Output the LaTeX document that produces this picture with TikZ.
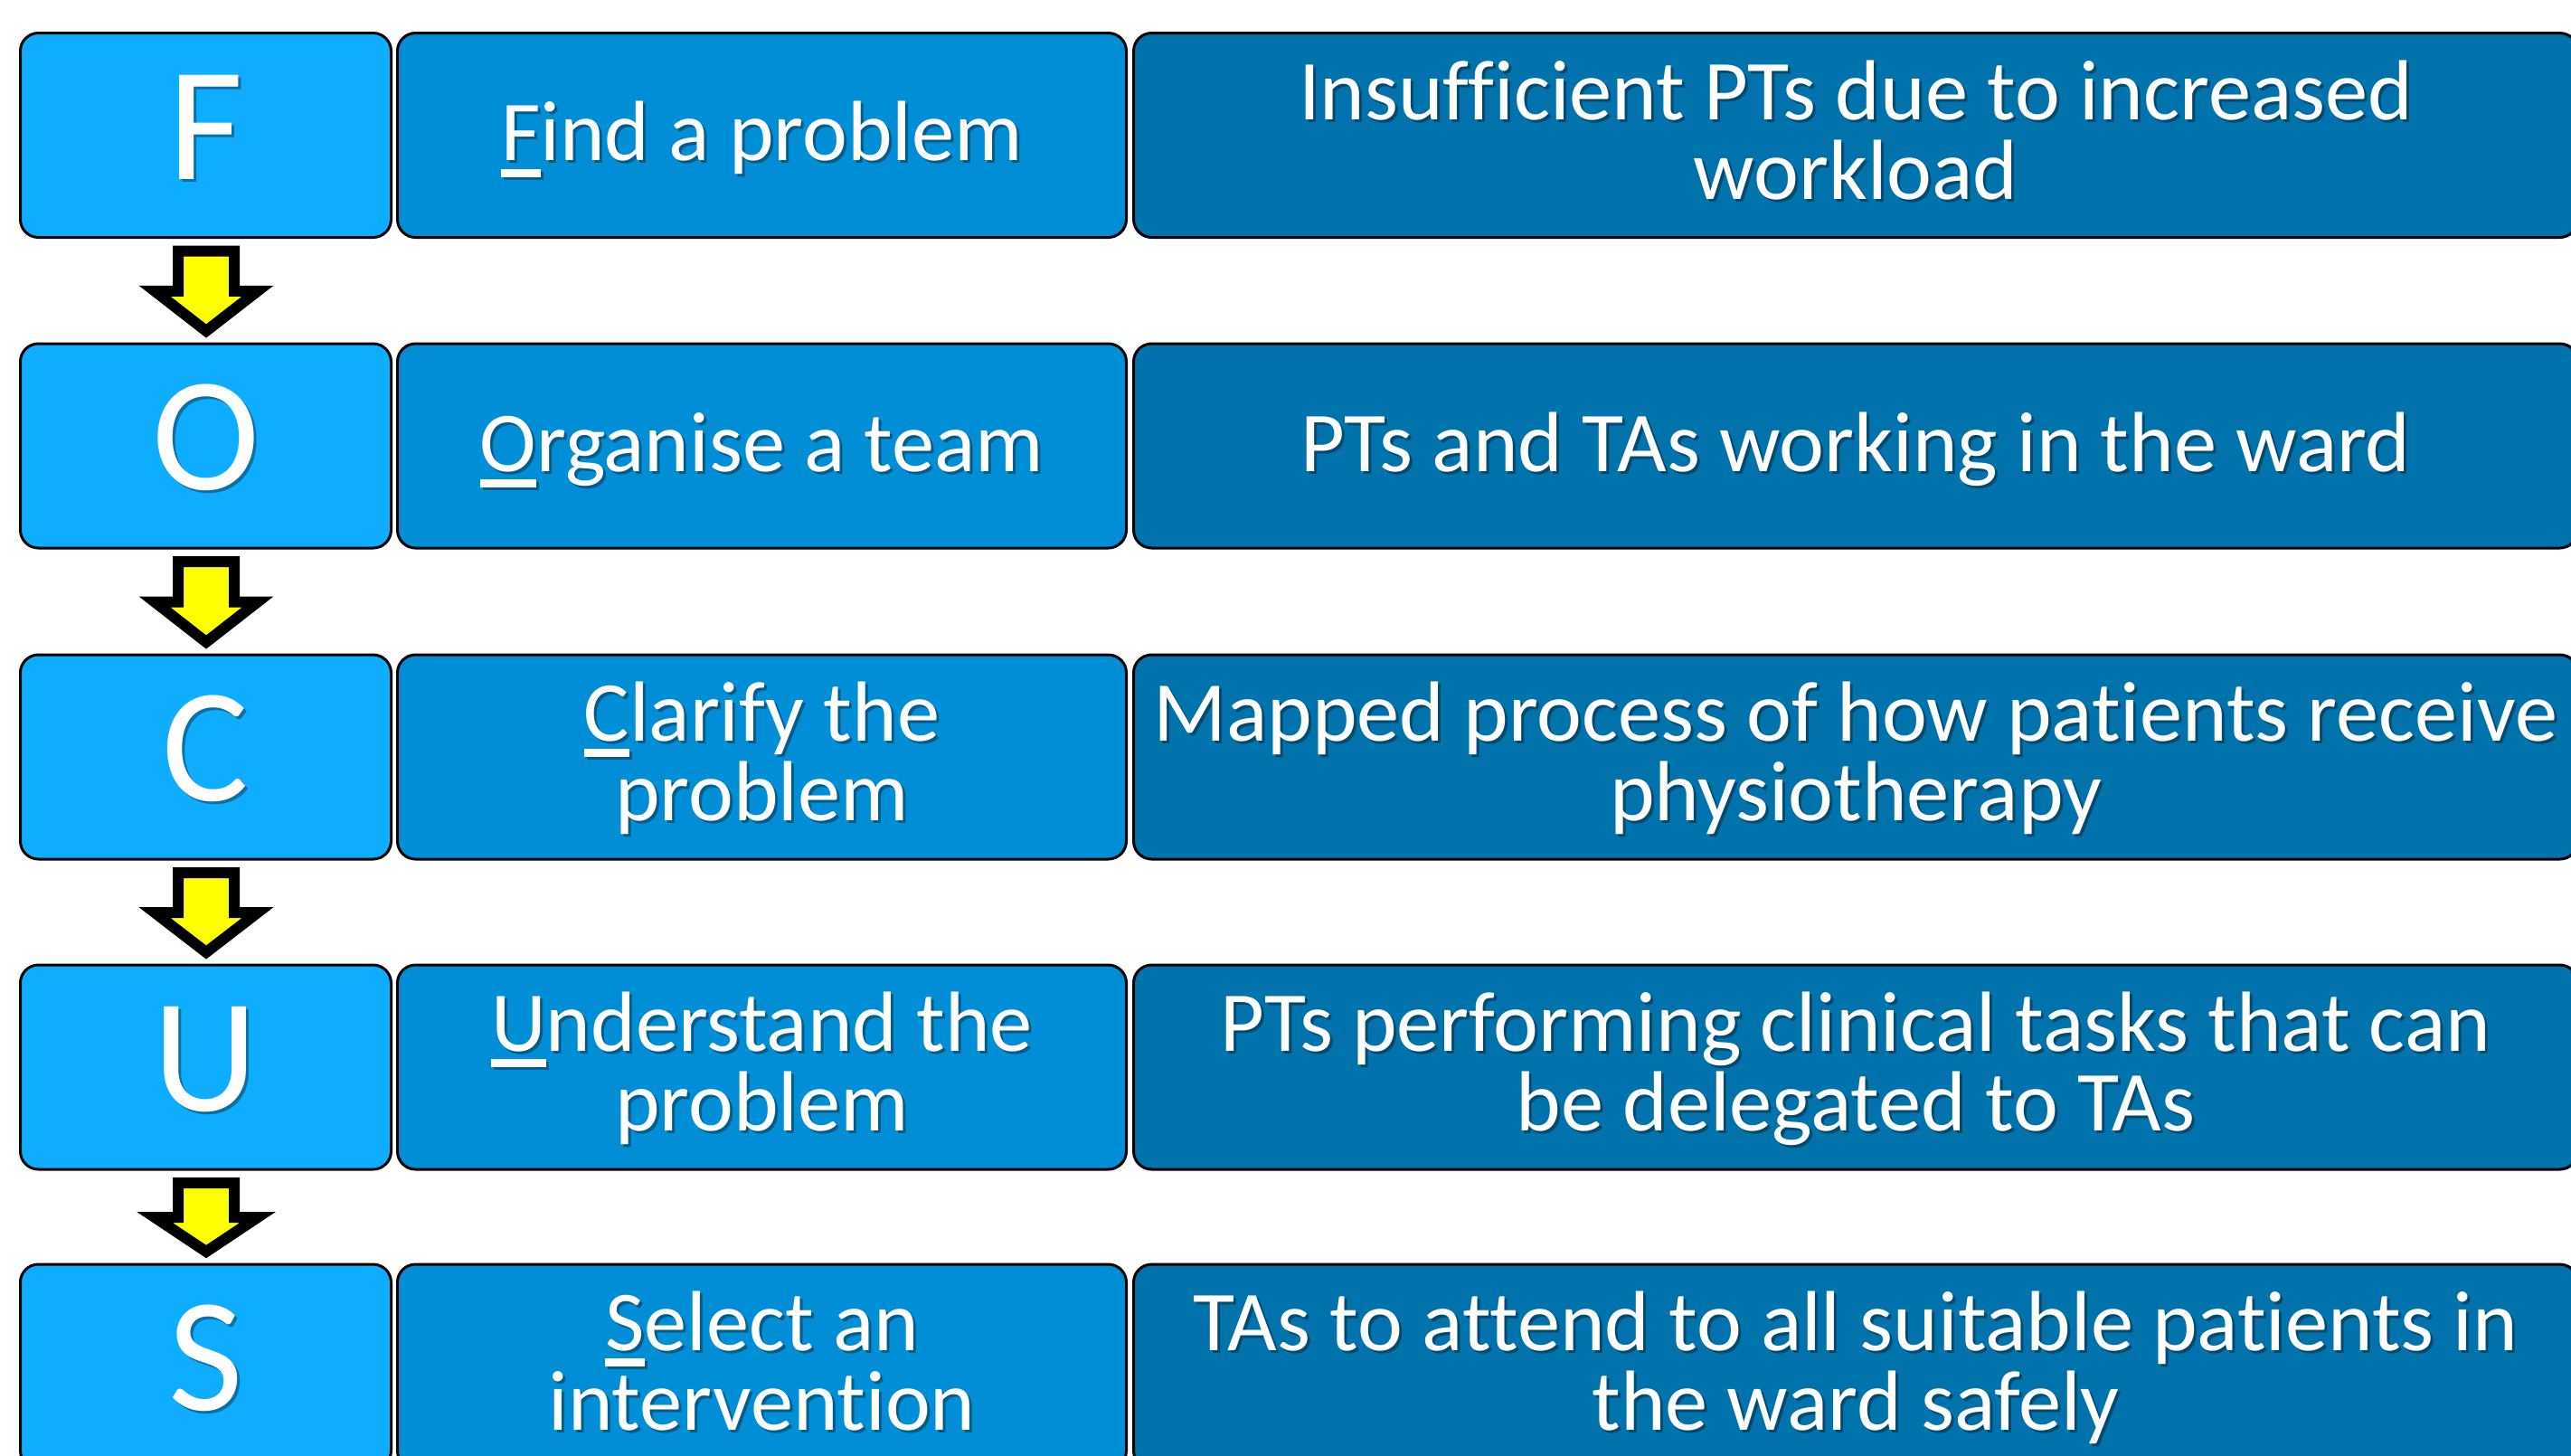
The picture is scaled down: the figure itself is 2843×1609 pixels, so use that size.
\documentclass[tikz,border=0pt]{standalone}
\usepackage{fontspec}
\setmainfont[Ligatures=CommonOff]{Carlito}
\usetikzlibrary{calc}
\definecolor{colL}{HTML}{0EADFF}
\definecolor{colM}{HTML}{008ED6}
\definecolor{colR}{HTML}{0072AC}
\definecolor{arrowyellow}{HTML}{FFFF00}
\newcommand\ulfirst[1]{\setbox0\hbox{#1}\rlap{\rule[-4.5pt]{\wd0}{2.25pt}}\box0}
\newcommand\celltext[4]{%
  \node[#3, text=black, opacity=0.35] (#1s) at ($(#2)+(3,3)$) {#4};
  \node[#3] (#1) at (#2) {#4};}
\begin{document}
\begin{tikzpicture}[x=0.25pt,y=-0.25pt,
  cell/.style={draw=black, line width=0.75pt, rounded corners=5pt, outer sep=0pt, inner sep=0pt, minimum height=56.5pt},
  lcell/.style={cell, fill=colL, minimum width=102.5pt},
  mcell/.style={cell, fill=colM, minimum width=201.5pt},
  rcell/.style={cell, fill=colR, minimum width=399.25pt},
  txt/.style={text=white, font=\fontsize{23.6pt}{22pt}\selectfont, align=center, anchor=base, inner sep=0pt},
  bigtxt/.style={text=white, font=\fontsize{44.9pt}{44pt}\selectfont, anchor=base, inner sep=0pt},
  yarrow/.style={draw=black, fill=arrowyellow, line width=3pt, line join=miter}]
\useasboundingbox (0,0) rectangle (2843,1609);
\clip (0,0) rectangle (2843,1609);
% boxes
\foreach \i/\y in {1/149.5, 2/493, 3/837, 4/1180, 5/1511} {
  \node[lcell] (L\i) at (227.5,\y) {};
  \node[mcell] (M\i) at (842.5,\y) {};
  \node[rcell] (R\i) at (2052,\y) {};
}
% arrows
\foreach \a/\b in {1/2, 2/3, 3/4, 4/5} {
  \coordinate (t\a) at ($(L\a.south)+(0.5,15)$);
  \coordinate (p\a) at ($(L\b.north)+(0.5,-14)$);
  \coordinate (s\a) at ($(t\a)!0.5!(p\a)$);
  \draw[yarrow] ($(t\a)+(-31,0)$) -- ($(t\a)+(31,0)$) -- ($(s\a)+(31,0)$) -- ($(s\a)+(57,0)$)
     -- (p\a) -- ($(s\a)+(-57,0)$) -- ($(s\a)+(-31,0)$) -- cycle;
}
% letters
\celltext{LF}{$(L1.center)+(0,48.5)$}{bigtxt}{F}
\celltext{LO}{$(L2.center)+(0,48.5)$}{bigtxt}{O}
\celltext{LC}{$(L3.center)+(0,48.5)$}{bigtxt}{C}
\celltext{LU}{$(L4.center)+(0,48.5)$}{bigtxt}{U}
\celltext{LS}{$(L5.center)+(0,48.5)$}{bigtxt}{S}
% middle column (anchor base = last line's baseline)
\celltext{MF}{$(M1.center)+(0,28)$}{txt}{\ulfirst{F}ind a problem}
\celltext{MO}{$(M2.center)+(0,28)$}{txt}{\ulfirst{O}rganise a team}
\celltext{MC}{$(M3.center)+(0,70)$}{txt}{\ulfirst{C}larify the\\problem}
\celltext{MU}{$(M4.center)+(0,70)$}{txt}{\ulfirst{U}nderstand the\\problem}
\celltext{MS}{$(M5.center)+(0,70)$}{txt}{\ulfirst{S}elect an\\intervention}
% right column
\celltext{RF}{$(R1.center)+(0,70.5)$}{txt}{Insufficient PTs due to increased\\workload}
\celltext{RO}{$(R2.center)+(0,28)$}{txt}{PTs and TAs working in the ward}
\celltext{RC}{$(R3.center)+(0,70)$}{txt}{Mapped process of how patients receive\\physiotherapy}
\celltext{RU}{$(R4.center)+(0,70)$}{txt}{PTs performing clinical tasks that can\\be delegated to TAs}
\celltext{RS}{$(R5.center)+(0,70)$}{txt}{TAs to attend to all suitable patients in\\the ward safely}
\end{tikzpicture}
\end{document}
